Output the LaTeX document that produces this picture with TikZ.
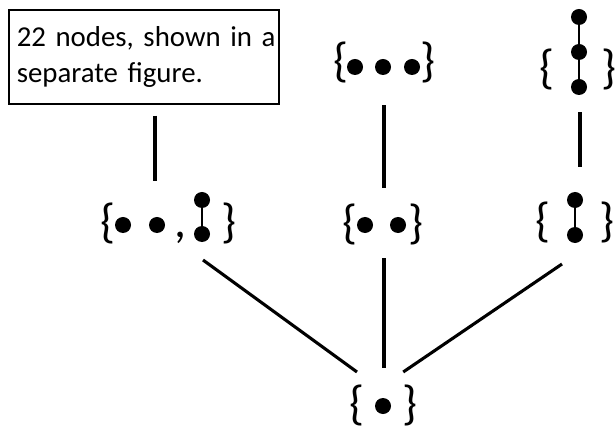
\documentclass[tikz,border=0pt]{standalone}
\usepackage{fontspec}
\setmainfont{Carlito}
\begin{document}
\begin{tikzpicture}[x=0.025cm, y=-0.025cm,
    set/.style={rectangle, inner sep=0pt, outer sep=0pt},
    brace/.style={inner sep=0pt, font=\fontsize{34}{34}\selectfont},
    link/.style={line width=2.2pt},
    bar/.style={line width=1.4pt}]
    \useasboundingbox (0,0) rectangle (616,431);

    % --- Note box ---
    \node[draw, line width=0.8pt, minimum width=6.75cm, minimum height=2.35cm, text width=6.6cm, inner xsep=0.075cm, align=left, font=\fontsize{20.5}{25}\selectfont] (note) at (144,57) {\hspace*{0.12cm}22 nodes, shown in a\\\hspace*{0.12cm}separate figure.};
    % ---

    % --- Frames of the sets ---
    \node[set, minimum width=2.5cm, minimum height=2.25cm] (abc) at (384,60) {};
    \node[set, minimum width=2cm, minimum height=2.5cm] (chain3) at (580,62) {};
    \node[set, minimum width=2.4cm, minimum height=1.75cm] (mixed) at (155,225) {};
    \node[set, minimum width=1.5cm, minimum height=1.75cm] (pair) at (384,223) {};
    \node[set, minimum width=0.9cm, minimum height=2.2cm] (chain2) at (580,220) {};
    \node[set, minimum width=1.35cm, minimum height=1.6cm] (single) at (384,404) {};
    % ---

    % --- Top row ---
    \node[brace] (abc-l) at (341,62) {\{};
    \node[brace] (abc-r) at (428,62) {\}};
    \fill (355,67) circle (0.2cm) (383,67) circle (0.2cm) (412,67) circle (0.2cm);
    \node[brace] (chain3-l) at (547,69) {\{};
    \node[brace] (chain3-r) at (609,69) {\}};
    \draw[bar] (579,17) -- (579,87);
    \fill (579,17) circle (0.2cm) (579,52) circle (0.2cm) (579,87) circle (0.2cm);
    % ---

    % --- Middle row ---
    \node[brace] (mixed-l) at (108,223) {\{};
    \fill (123,225) circle (0.2cm) (157,225) circle (0.2cm);
    \node[brace] (mixed-c) at (180,238) {,};
    \draw[bar] (202,200) -- (202,234);
    \fill (202,200) circle (0.2cm) (202,234) circle (0.2cm);
    \node[brace] (mixed-r) at (229,223) {\}};
    \node[brace] (pair-l) at (350,224) {\{};
    \node[brace] (pair-r) at (416,224) {\}};
    \fill (365,225) circle (0.2cm) (398,225) circle (0.2cm);
    \node[brace] (chain2-l) at (543,222) {\{};
    \node[brace] (chain2-r) at (607,222) {\}};
    \draw[bar] (575,200) -- (575,235);
    \fill (575,200) circle (0.2cm) (575,235) circle (0.2cm);
    % ---

    % --- Bottom ---
    \node[brace] (single-l) at (357,405) {\{};
    \node[brace] (single-r) at (410,405) {\}};
    \fill (383,406) circle (0.2cm);
    % ---

    % --- Order lines ---
    \draw[link, shorten <=0.275cm, shorten >=0.225cm] (note.south -| mixed.north) -- (mixed.north);
    \draw[link] (abc.south) -- (pair.north);
    \draw[link, shorten >=0.225cm] (chain3.south) -- (chain2.north);
    \draw[link] (mixed.south east) -- (single.north west);
    \draw[link, shorten >=0.1cm] (pair.south) -- (single.north);
    \draw[link] (chain2.south west) -- (single.59);
    % ---
\end{tikzpicture}
\end{document}
